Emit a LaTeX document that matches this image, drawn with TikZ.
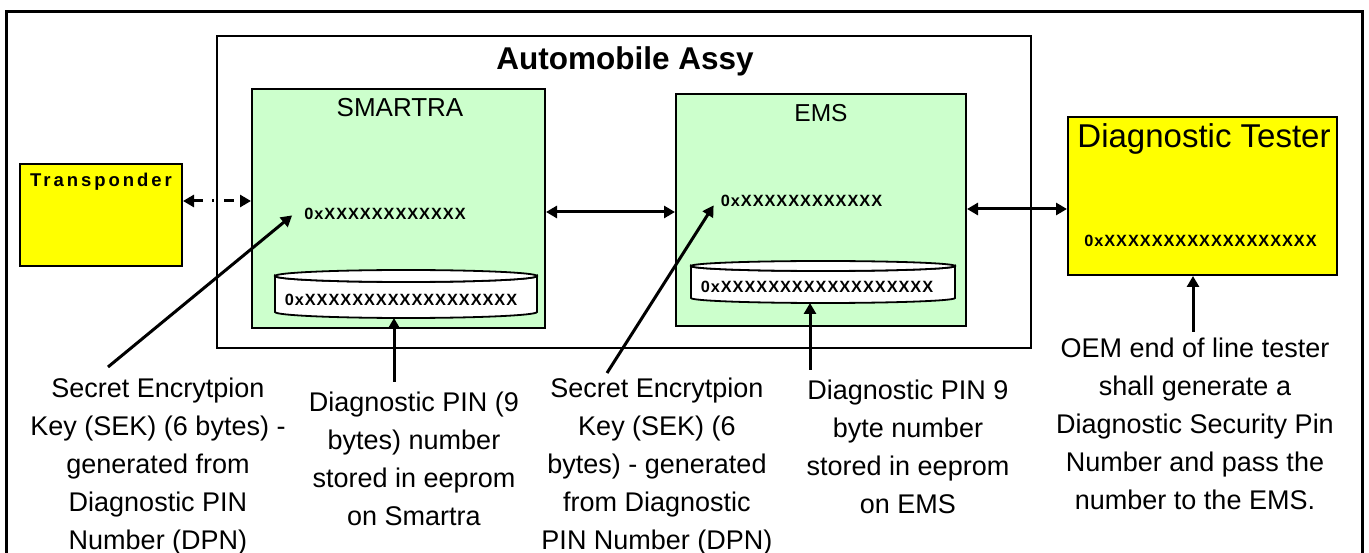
\documentclass[tikz,border=0pt]{standalone}
\usepackage{fontspec}
\setmainfont{Liberation Sans}
\newfontfamily\hexfont[LetterSpace=6]{Liberation Sans}
\newfontfamily\trfont[LetterSpace=16]{Liberation Sans}
\usetikzlibrary{arrows.meta,calc}
\definecolor{boxgreen}{HTML}{CCFFCC}
\definecolor{boxyellow}{HTML}{FFFF00}
\tikzset{
 box/.style={draw=black, line width=2pt, inner sep=0pt, rectangle},
 greenbox/.style={box, fill=boxgreen},
 yellowbox/.style={box, fill=boxyellow},
 hex/.style={font=\hexfont\bfseries\fontsize{16.3}{19}\selectfont, inner sep=0pt, anchor=base},
 title/.style={inner sep=0pt, anchor=base},
 lbl/.style={font=\fontsize{27}{38}\selectfont, align=center, inner sep=0pt, anchor=north},
 arr/.style={line width=3pt, -{Triangle[length=11pt,width=12pt]}},
 darr/.style={line width=3pt, {Triangle[length=11pt,width=12pt]}-{Triangle[length=11pt,width=12pt]}},
 cyl/.style={fill=white, draw=black, line width=1.8pt},
}
\begin{document}
\begin{tikzpicture}[x=1pt,y=-1pt]
\useasboundingbox (0,0) rectangle (1369,553);
\fill[white] (0,0) rectangle (1369,553);
% outer frame
\draw[line width=2.5pt] (6.5,560) -- (6.5,11.5) -- (1362.5,11.5) -- (1362.5,560);
% automobile assembly
\node[box, minimum width=814pt, minimum height=312pt] (auto) at (624,192) {};
\node[title, font=\bfseries\fontsize{31.5}{36}\selectfont] (autotitle) at (625,70) {Automobile Assy};
% SMARTRA
\node[greenbox, minimum width=293pt, minimum height=239pt] (sm) at (398.5,208.5) {};
\node[title, font=\fontsize{26}{30}\selectfont] (smlabel) at (400,117) {SMARTRA};
\node[hex] (smhex) at (385,220) {0xXXXXXXXXXXXX};
\filldraw[cyl] (275,276) -- (275,312) arc[start angle=180, end angle=0, x radius=131, y radius=6] -- (537,276) arc[start angle=0, end angle=180, x radius=131, y radius=6] -- cycle;
\draw[cyl] (406,276) ellipse[x radius=131, y radius=6];
\node[hex] (smpin) at (401,306) {0xXXXXXXXXXXXXXXXXXX};
\coordinate (smcylb) at (394,318);
% EMS
\node[greenbox, minimum width=290pt, minimum height=232pt] (em) at (821,210) {};
\node[title, font=\fontsize{24.5}{28}\selectfont] (emlabel) at (821,122) {EMS};
\node[hex] (emhex) at (801.5,207) {0xXXXXXXXXXXXX};
\filldraw[cyl] (691,266) -- (691,298) arc[start angle=180, end angle=0, x radius=132, y radius=5] -- (955,266) arc[start angle=0, end angle=180, x radius=132, y radius=5] -- cycle;
\draw[cyl] (823,266) ellipse[x radius=132, y radius=5];
\node[hex] (empin) at (817,293) {0xXXXXXXXXXXXXXXXXXX};
\coordinate (emcylb) at (810,303);
% Transponder
\node[yellowbox, minimum width=162pt, minimum height=102pt] (tr) at (101,215) {};
\node[title, font=\trfont\bfseries\fontsize{18.5}{22}\selectfont] (trlabel) at (101,187) {Transponder};
% Diagnostic tester
\node[yellowbox, minimum width=269pt, minimum height=158pt] (te) at (1202.5,196) {};
\node[title, font=\fontsize{33}{38}\selectfont] (telabel) at (1204,148) {Diagnostic Tester};
\node[hex] (tehex) at (1200.5,247) {0xXXXXXXXXXXXXXXXXXX};
% connectors
\draw[darr, dash pattern=on 10pt off 9pt on 2pt off 10pt] ([yshift=14pt]tr.east) -- ([yshift=14pt]tr.east -| sm.west);
\draw[darr] ([yshift=-3.5pt]sm.east) -- ([yshift=-3.5pt]sm.east -| em.west);
\draw[darr] ([yshift=1pt]em.east) -- ([yshift=1pt]em.east -| te.west);
% labels
\node[lbl] (sekL) at (158,377.5) {Secret Encrytpion\\Key (SEK) (6 bytes) -\\generated from\\Diagnostic PIN\\Number (DPN)};
\node[lbl] (pinS) at (414,391.5) {Diagnostic PIN (9\\bytes) number\\stored in eeprom\\on Smartra};
\node[lbl] (sekE) at (657,377.5) {Secret Encrytpion\\Key (SEK) (6\\bytes) - generated\\from Diagnostic\\PIN Number (DPN)};
\node[lbl] (pinE) at (908,379.5) {Diagnostic PIN 9\\byte number\\stored in eeprom\\on EMS};
\node[lbl] (oem) at (1195,337.5) {OEM end of line tester\\shall generate a\\Diagnostic Security Pin\\Number and pass the\\number to the EMS.};
% pointer arrows
\coordinate (a1) at (108,367);
\coordinate (a2) at (394,382);
\coordinate (a3) at (607,373);
\coordinate (a4) at (810,370);
\coordinate (a5) at (1193,332);
\draw[arr] (a1) -- ([xshift=-12pt,yshift=-1pt]smhex.west);
\draw[arr] (a2) -- (smcylb);
\draw[arr] (a3) -- ([xshift=-7pt,yshift=-4pt]emhex.west);
\draw[arr] (a4) -- (emcylb);
\draw[arr] (a5) -- ([xshift=-9.5pt]te.south);
\end{tikzpicture}
\end{document}
